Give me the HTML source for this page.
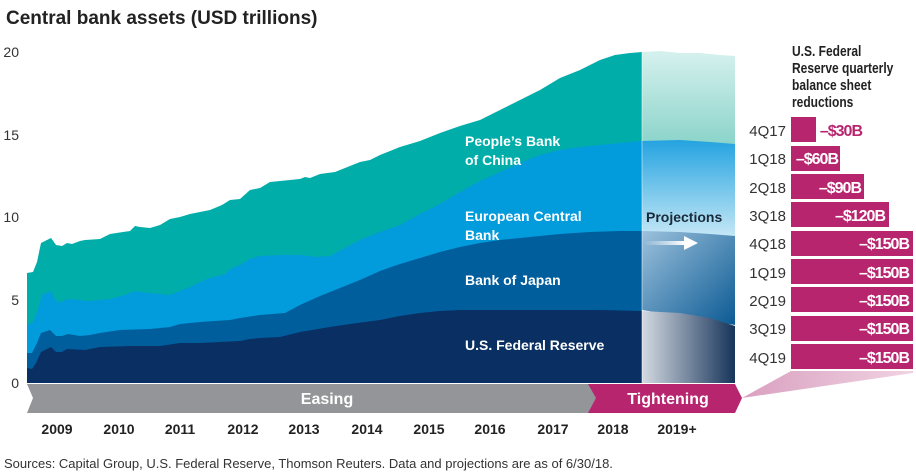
<!DOCTYPE html>
<html><head><meta charset="utf-8"><style>
body{margin:0;background:#fff;width:916px;height:476px;overflow:hidden}
svg{display:block;font-family:"Liberation Sans",sans-serif}
</style></head><body>
<svg width="916" height="476" viewBox="0 0 916 476">
<defs>
<linearGradient id="g1" x1="0" y1="0" x2="0" y2="1"><stop offset="0" stop-color="#d6f1ee"/><stop offset="1" stop-color="#86d2c8"/></linearGradient>
<linearGradient id="g2" x1="0" y1="0" x2="0" y2="1"><stop offset="0" stop-color="#24a3e0"/><stop offset="1" stop-color="#c4e7f6"/></linearGradient>
<linearGradient id="g3" x1="0" y1="0" x2="1" y2="1"><stop offset="0" stop-color="#9cc1dc"/><stop offset="1" stop-color="#0b5a94"/></linearGradient>
<linearGradient id="g4" x1="0" y1="0" x2="1" y2="0"><stop offset="0" stop-color="#d4dae2"/><stop offset="1" stop-color="#17345a"/></linearGradient>
<linearGradient id="g5" x1="0" y1="0" x2="1" y2="0"><stop offset="0" stop-color="#d9a0c0"/><stop offset="1" stop-color="#f0d3e2"/></linearGradient>
<linearGradient id="ar" x1="0" y1="0" x2="1" y2="0"><stop offset="0" stop-color="#fff" stop-opacity="0"/><stop offset="1" stop-color="#fff"/></linearGradient>
</defs>
<text x="6" y="24" font-size="19" font-weight="bold" fill="#222">Central bank assets (USD trillions)</text>
<g font-size="14" fill="#333" text-anchor="end">
<text x="19" y="57">20</text><text x="19" y="140">15</text><text x="19" y="222">10</text><text x="19" y="305">5</text><text x="19" y="388">0</text></g>
<polygon fill="#00ada9" points="27,383 27,273 33,272 37,262 41,243 51,238 56,245 62,246 67,243 72,244 80,241 85,240 100,239 110,234 130,231 135,226 140,227 150,228 160,225 170,219 180,217 190,214 200,212 210,210 222,205 230,200 240,199 250,190 260,188 270,182 280,181 300,179 305,177 310,178 320,174 335,172 350,166 360,162 370,160 380,155 400,147 420,141 440,133 460,126 480,120 500,110 520,100 540,90 560,78 580,70 600,60 615,55 630,53 642,52 642,383"/>
<polygon fill="url(#g1)" points="642,52 660,51 680,53 700,53 720,55 735,56 735,150 642,148"/>
<polygon fill="#029bdb" points="27,383 27,325 33,322 37,312 42,295 51,291 56,301 62,302 67,299 80,300 87,301 100,300 110,299 125,295 135,291 140,292 160,294 170,295 180,291 190,287 200,282 210,278 225,274 232,268 240,265 250,259 260,256 280,255 300,255 315,257 330,256 345,248 360,240 380,232 400,225 420,214 440,204 460,192 480,181 500,172 520,163 540,155 560,150 580,147 600,145 620,143 642,141 642,383"/>
<polygon fill="url(#g2)" points="642,141 680,140 710,142 735,144 735,236 642,232"/>
<polygon fill="#005e9d" points="27,383 27,353 32,353 37,343 41,333 50,330 56,336 62,336 68,334 80,336 90,335 100,333 120,330 150,329 170,327 180,324 200,322 230,320 240,318 260,315 285,313 300,305 320,296 340,288 360,280 380,271 400,264 420,258 440,252 460,247 480,243 500,240 530,237 560,234 590,232 620,231 642,231 642,383"/>
<polygon fill="url(#g3)" points="642,231 680,232 710,234 735,236 735,325 642,310"/>
<polygon fill="#0a2f62" points="27,383 27,368 32,369 36,363 41,352 51,347 56,352 62,352 67,349 85,350 100,347 130,346 160,346 180,343 200,343 240,341 250,339 260,338 280,337 300,332 330,327 350,324 380,320 400,316 420,313 440,311 460,310 500,310 560,310 600,310 642,311 642,383"/>
<polygon fill="url(#g4)" points="642,311 680,313 710,318 735,326 735,383 642,383"/>
<line x1="642" y1="52" x2="642" y2="383" stroke="#fff" stroke-width="1" opacity=".5"/>
<g fill="#fff" font-size="14" font-weight="bold">
<text x="465" y="146">People’s Bank</text><text x="465" y="165">of China</text>
<text x="465" y="221">European Central</text><text x="465" y="240">Bank</text>
<text x="465" y="285">Bank of Japan</text>
<text x="465" y="350">U.S. Federal Reserve</text></g>
<text x="646" y="222" font-size="14" font-weight="bold" fill="#1a2a3a">Projections</text>
<rect x="644" y="241" width="40" height="4" fill="url(#ar)"/>
<polygon points="684,236 698,243 684,250" fill="#fff"/>
<polygon fill="#939598" points="27,384 596,384 604,398 596,413 27,413 33,398"/>
<polygon fill="#b8256f" points="588,384 735,384 742,398 735,413 588,413 596,398"/>
<polygon fill="url(#g5)" points="742,398 791,371 913,371 913,373"/>
<text x="327" y="404" font-size="16" font-weight="bold" fill="#fff" text-anchor="middle">Easing</text>
<text x="668" y="404" font-size="16" font-weight="bold" fill="#fff" text-anchor="middle">Tightening</text>
<g font-size="14" font-weight="bold" fill="#222" text-anchor="middle">
<text x="57" y="434">2009</text><text x="119" y="434">2010</text><text x="180" y="434">2011</text><text x="243" y="434">2012</text><text x="304" y="434">2013</text><text x="367" y="434">2014</text><text x="429" y="434">2015</text><text x="490" y="434">2016</text><text x="553" y="434">2017</text><text x="613" y="434">2018</text><text x="677" y="434">2019+</text></g>
<text x="4" y="468" font-size="13" fill="#333">Sources: Capital Group, U.S. Federal Reserve, Thomson Reuters. Data and projections are as of 6/30/18.</text>
<g font-size="15" font-weight="bold" fill="#222" transform="translate(792,0) scale(0.8,1)">
<text x="0" y="56">U.S. Federal</text><text x="0" y="73">Reserve quarterly</text><text x="0" y="90">balance sheet</text><text x="0" y="107">reductions</text></g>
<g font-size="15" fill="#333" text-anchor="end">
<text x="786" y="136">4Q17</text><text x="786" y="164">1Q18</text><text x="786" y="193">2Q18</text><text x="786" y="221">3Q18</text><text x="786" y="249">4Q18</text><text x="786" y="278">1Q19</text><text x="786" y="306">2Q19</text><text x="786" y="334">3Q19</text><text x="786" y="363">4Q19</text></g>
<g fill="#b8256f">
<rect x="791" y="117" width="25" height="25"/><rect x="791" y="146" width="49" height="25"/><rect x="791" y="174" width="73" height="25"/><rect x="791" y="202" width="98" height="25"/><rect x="791" y="231" width="122" height="25"/><rect x="791" y="259" width="122" height="25"/><rect x="791" y="287" width="122" height="25"/><rect x="791" y="316" width="122" height="25"/><rect x="791" y="344" width="122" height="25"/></g>
<g font-size="16" font-weight="bold" fill="#fff" text-anchor="end" letter-spacing="-1">
<text x="862" y="136" fill="#b8256f">–$30B</text><text x="838" y="164">–$60B</text><text x="861" y="193">–$90B</text><text x="885" y="221">–$120B</text><text x="909" y="249">–$150B</text><text x="909" y="278">–$150B</text><text x="909" y="306">–$150B</text><text x="909" y="334">–$150B</text><text x="909" y="363">–$150B</text></g>
</svg>
</body></html>
